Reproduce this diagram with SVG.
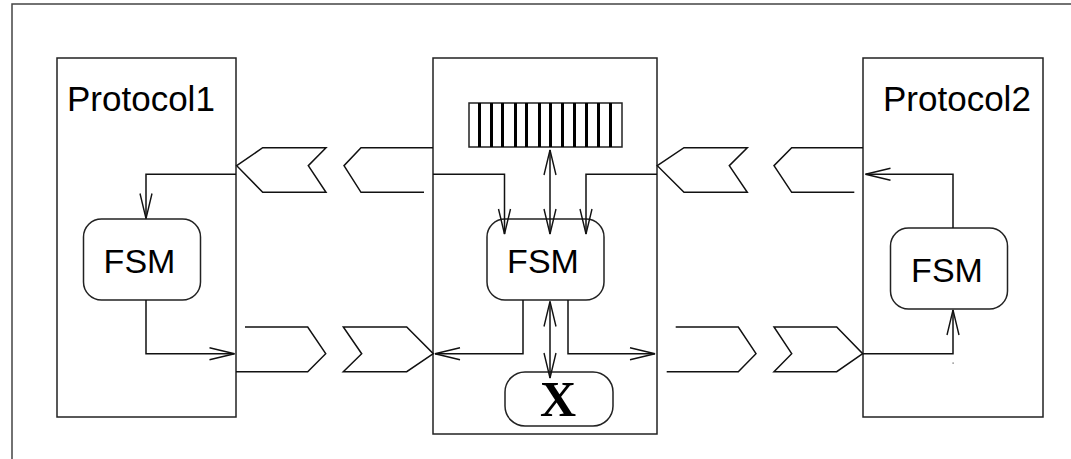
<svg xmlns="http://www.w3.org/2000/svg" width="1071" height="459" viewBox="0 0 1071 459">
<style>
.box{fill:none;stroke:#222;stroke-width:1.5}
.rr{fill:#fff;stroke:#222;stroke-width:1.5}
.ln{fill:none;stroke:#111;stroke-width:1.5;stroke-linejoin:miter}
.lbl{font-family:"Liberation Sans",Arial,sans-serif;font-size:35px;fill:#000}
.fsm{font-family:"Liberation Sans",Arial,sans-serif;font-size:34px;fill:#000;text-anchor:middle}
.x{font-family:"Liberation Serif","Times New Roman",serif;font-size:50px;font-weight:bold;fill:#000;text-anchor:middle}
.stripe{stroke:#000;stroke-width:3}
</style>
<defs>
<marker id="arr" markerUnits="userSpaceOnUse" viewBox="-27 -8 29 16" markerWidth="29" markerHeight="16" refX="0" refY="0" orient="auto-start-reverse">
<path d="M-25,-6 L0,0 L-25,6" fill="none" stroke="#111" stroke-width="1.4"/>
</marker>
</defs>
<rect width="1071" height="459" fill="#fff"/>
<rect id="frame" x="12" y="4" width="1100" height="500" fill="none" stroke="#444" stroke-width="1.5"/>

<g id="protocol1">
<rect class="box" x="57" y="58" width="179" height="359"/>
<text class="lbl" x="67" y="111">Protocol1</text>
</g>
<g id="fsm1">
<rect class="rr" x="83.5" y="219" width="117" height="81" rx="18"/>
<text class="fsm" x="139.5" y="273">FSM</text>
</g>

<g id="middle">
<rect class="box" x="433" y="58" width="224" height="376"/>
</g>
<g id="queue">
<rect x="469" y="103" width="153" height="44" fill="#fff" stroke="#222" stroke-width="1.5"/>
<g class="stripe">
<line x1="479.5" y1="103" x2="479.5" y2="147"/>
<line x1="491.5" y1="103" x2="491.5" y2="147"/>
<line x1="502.5" y1="103" x2="502.5" y2="147"/>
<line x1="515.5" y1="103" x2="515.5" y2="147"/>
<line x1="526.5" y1="103" x2="526.5" y2="147"/>
<line x1="539.5" y1="103" x2="539.5" y2="147"/>
<line x1="550.5" y1="103" x2="550.5" y2="147"/>
<line x1="562.5" y1="103" x2="562.5" y2="147"/>
<line x1="574.5" y1="103" x2="574.5" y2="147"/>
<line x1="586.5" y1="103" x2="586.5" y2="147"/>
<line x1="598.5" y1="103" x2="598.5" y2="147"/>
<line x1="610.5" y1="103" x2="610.5" y2="147"/>
</g>
</g>
<g id="fsm-mid">
<rect class="rr" x="487" y="219" width="117" height="81" rx="18"/>
<text class="fsm" x="543" y="273">FSM</text>
</g>
<g id="xbox">
<rect class="rr" x="505" y="372" width="108" height="54" rx="20"/>
<text class="x" x="558" y="416">X</text>
</g>

<g id="protocol2">
<rect class="box" x="863" y="58" width="180" height="359"/>
<text class="lbl" x="883" y="111">Protocol2</text>
</g>
<g id="fsm2">
<rect class="rr" x="890.5" y="228" width="117" height="81" rx="18"/>
<text class="fsm" x="947" y="282">FSM</text>
</g>

<g id="messages" class="ln">
<g id="msg-l1"><polygon points="236.7,165.7 262.7,147.7 326,147.7 308.3,165.7 326,192.3 262.7,192.3"/></g>
<g id="msg-l2"><polyline points="433,147.7 361,147.7 344,165.7 361,192.3 424,192.3"/></g>
<g id="msg-r1"><polygon points="657.3,165.7 684,147.7 747.3,147.7 729.3,165.7 747.3,192.3 684,192.3"/></g>
<g id="msg-r2"><polyline points="863,147.7 791.7,147.7 774,165.7 791.7,192.3 854.3,192.3"/></g>
<g id="msg-l3"><polyline points="245,327 307.7,327 325.7,353.7 307.7,371.7 236,371.7"/></g>
<g id="msg-l4"><polygon points="343.3,327 406.7,327 433.3,353.7 406.7,371.7 343.3,371.7 361.7,353.7"/></g>
<g id="msg-r3"><polyline points="675.7,327 738.3,327 756,353.7 738.3,371.7 666.7,371.7"/></g>
<g id="msg-r4"><polygon points="774,327 836.7,327 862.7,353.7 836.7,371.7 774,371.7 791.7,353.7"/></g>
</g>

<g id="connectors" class="ln">
<path d="M236,174.3 H146 V218.5" marker-end="url(#arr)"/>
<path d="M146,300 V353.7 H234.5" marker-end="url(#arr)"/>
<path d="M433,174.3 H504.5 V234" marker-end="url(#arr)"/>
<path d="M657,174.3 H586 V234" marker-end="url(#arr)"/>
<path d="M550,150 V234" marker-start="url(#arr)" marker-end="url(#arr)"/>
<path d="M523,300 V353.7 H435" marker-end="url(#arr)"/>
<path d="M568,300 V353.7 H655" marker-end="url(#arr)"/>
<path d="M550,301.5 V378" marker-start="url(#arr)" marker-end="url(#arr)"/>
<path d="M953,228 V174.3 H865.5" marker-end="url(#arr)"/>
<path d="M862.7,353.7 H953 V310" marker-end="url(#arr)"/>
</g>
<rect x="952.5" y="362.5" width="1.2" height="1.2" fill="#555"/>
</svg>
